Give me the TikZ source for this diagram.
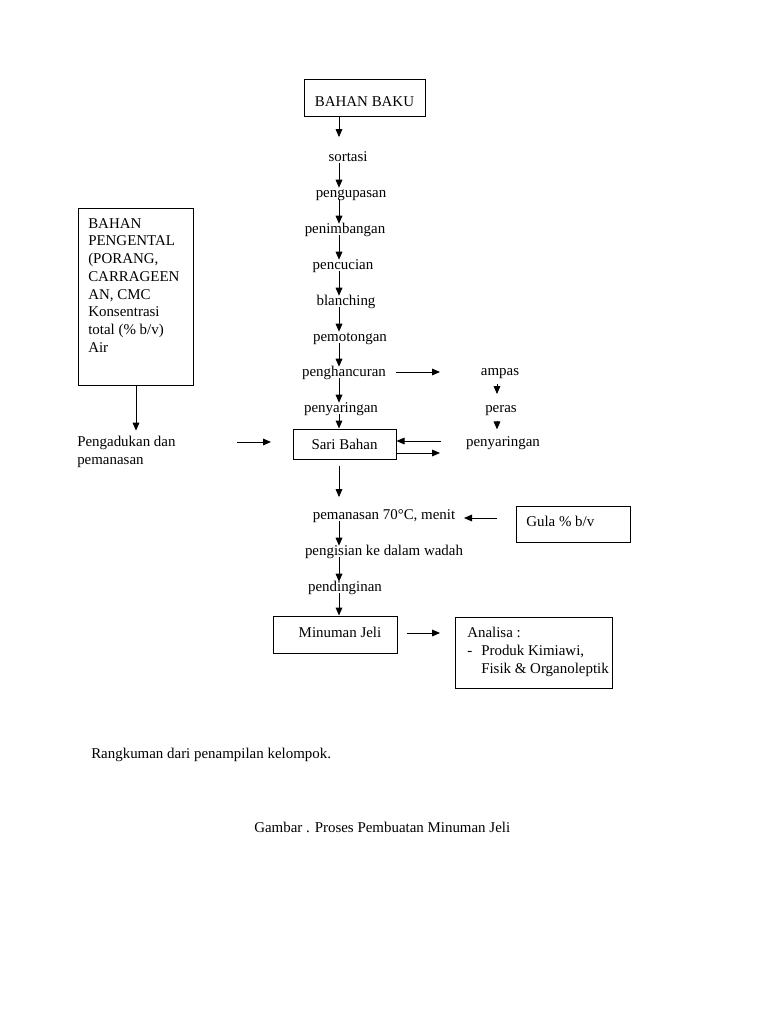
\documentclass[tikz,border=0pt]{standalone}
\usepackage{fontspec}
\setmainfont{Liberation Serif}
\usetikzlibrary{arrows.meta}
\begin{document}
\begin{tikzpicture}[x=0.75pt,y=-0.75pt,
 every node/.style={font=\fontsize{11.2}{13.3}\selectfont},
 lab/.style={inner sep=0pt,text height=9pt,text depth=1pt},
 box/.style={draw,line width=0.75pt,inner sep=0pt},
 arr/.style={-{Triangle[length=6pt,width=5pt]},line width=0.75pt},
 mainarr/.style={arr,shorten >=-2pt},
]
\useasboundingbox[fill=white] (0,0) rectangle (768,1024);

% main column
\coordinate (col) at (339,0);
\node[box,minimum width=90.75pt,minimum height=27pt,text height=13.5pt,text depth=0pt] (bb) at (364.5,98) {BAHAN BAKU};
\node[lab] (s1) at (348,156) {sortasi};
\node[lab] (s2) at (351,192) {pengupasan};
\node[lab] (s3) at (345,228) {penimbangan};
\node[lab] (s4) at (343,264) {pencucian};
\node[lab] (s5) at (346,300) {blanching};
\node[lab] (s6) at (350,336) {pemotongan};
\node[lab] (s7) at (344,371) {penghancuran};
\node[lab] (s8) at (341,407) {penyaringan};
\node[box,lab,minimum width=77.25pt,minimum height=22.5pt] (sb) at (344.5,444) {Sari Bahan};
\node[lab] (s9) at (384,514) {pemanasan 70°C, menit};
\node[lab] (s10) at (384,550) {pengisian ke dalam wadah};
\node[lab] (s11) at (345,586) {pendinginan};
\node[box,minimum width=93pt,minimum height=27.75pt,text height=7pt,text depth=1.8pt] (mj) at (335,634.5) {\hspace*{7.5pt}Minuman Jeli};

\draw[arr,shorten >=9pt] (bb.south -| col) -- (s1.north -| col);
\draw[mainarr] (s1.south -| col) -- (s2.north -| col);
\draw[mainarr] (s2.south -| col) -- (s3.north -| col);
\draw[mainarr] (s3.south -| col) -- (s4.north -| col);
\draw[mainarr] (s4.south -| col) -- (s5.north -| col);
\draw[mainarr] (s5.south -| col) -- (s6.north -| col);
\draw[mainarr] (s6.south -| col) -- (s7.north -| col);
\draw[mainarr] (s7.south -| col) -- (s8.north -| col);
\draw[arr] (s8.south -| col) -- (sb.north -| col);
\draw[arr,shorten <=4.5pt,shorten >=7.5pt] (sb.south -| col) -- (s9.north -| col);
\draw[mainarr] (s9.south -| col) -- (s10.north -| col);
\draw[mainarr] (s10.south -| col) -- (s11.north -| col);
\draw[arr] (s11.south -| col) -- (mj.north -| col);

% right branch
\coordinate (ax) at (497,0);
\node[lab] (amp) at (500,370) {ampas};
\node[lab] (per) at (501,407) {peras};
\node[lab] (py2) at (503,441) {penyaringan};
\coordinate (h1) at (396,372);
\coordinate (h2) at (440,372);
\draw[arr] (h1) -- (h2);
\draw[arr,shorten <=5pt,shorten >=4.5pt] (amp.south -| ax) -- (per.north -| ax);
\draw[arr,shorten <=5pt,shorten >=3.5pt] (per.south -| ax) -- (py2.north -| ax);
\coordinate (rin) at (441,441);
\coordinate (rout) at (440,453);
\draw[arr] (rin) -- (rin -| sb.east);
\draw[arr] (rout -| sb.east) -- (rout);

% left box
\node[box,minimum width=86.25pt,minimum height=132.75pt,anchor=north west] (pk) at (78,208) {};
\node[inner sep=0pt,anchor=north west,align=left] (pkt) at (88,218) {BAHAN\\PENGENTAL\\(PORANG,\\CARRAGEEN\\AN, CMC\\Konsentrasi\\total (\% b/v)\\Air};
\node[inner sep=0pt,anchor=north west,align=left] (pd) at (77,436) {Pengadukan dan\\pemanasan};
\draw[arr,shorten >=4pt] (pk.south) -- (pk.south |- pd.north);
\coordinate (pa1) at (237,442);
\coordinate (pa2) at (271,442);
\draw[arr] (pa1) -- (pa2);

% gula
\node[box,minimum width=85.5pt,minimum height=27pt] (gula) at (573,524) {};
\node[lab,anchor=west] (gt) at (526,521) {Gula \% b/v};
\coordinate (g1) at (497,518);
\coordinate (g2) at (464,518);
\draw[arr] (g1) -- (g2);

% analisa
\node[box,minimum width=117.75pt,minimum height=53.25pt] (an) at (533.5,652.5) {};
\node[inner sep=0pt,anchor=north west,align=left] (at) at (467,627) {Analisa :\\\makebox[10.5pt][l]{-}Produk Kimiawi,\\\hspace*{10.5pt}Fisik \& Organoleptik};
\coordinate (m1) at (407,633);
\coordinate (m2) at (440,633);
\draw[arr] (m1) -- (m2);

% captions
\node[lab,anchor=west] (c1) at (91,753) {Rangkuman dari penampilan kelompok.};
\node[lab,anchor=west] (c2) at (254,827) {Gambar . Proses Pembuatan Minuman Jeli};
\end{tikzpicture}
\end{document}
